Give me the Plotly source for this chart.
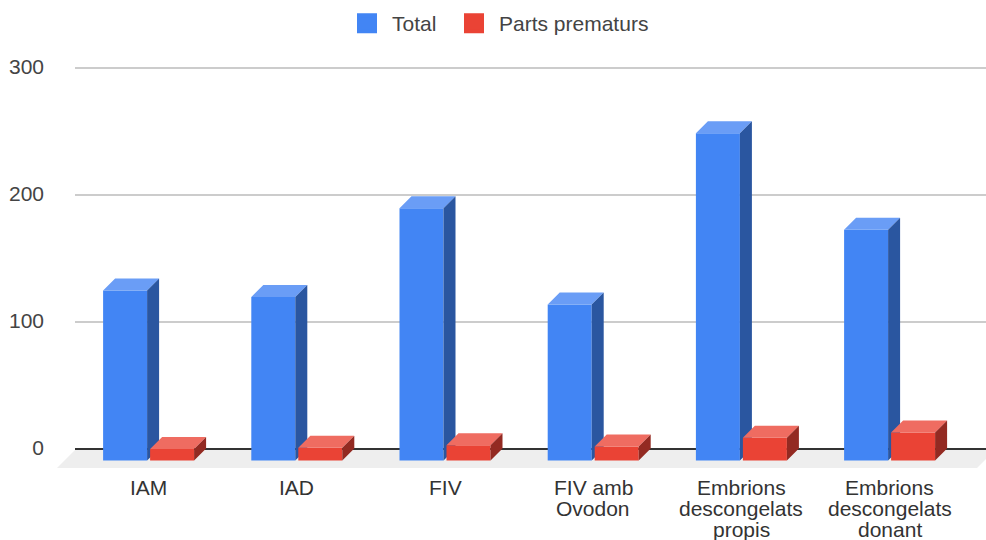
import plotly.graph_objects as go

categories = [["IAM"], ["IAD"], ["FIV"], ["FIV amb", "Ovodon"],
              ["Embrions", "descongelats", "propis"], ["Embrions", "descongelats", "donant"]]
total = [134, 129, 199, 123, 258, 182]
prematurs = [9, 10, 12, 11, 18, 22]
y_ticks = [0, 100, 200, 300]

W, H = 986, 540
PX_PER_CAT = 148.2
PX_PER_VAL = 1.268
DEPTH_X = 12 / PX_PER_CAT
DEPTH_Y = 12 / PX_PER_VAL
BAR_W = 44 / PX_PER_CAT
SLOT = 47 / PX_PER_CAT
FONT = "Liberation Sans, Arial, sans-serif"
positions = list(range(len(categories)))

PLOT_L, PLOT_T, PLOT_B = 75, 50, 468
ZERO_PX = 448.5
CENTER_PX = 148.6
x_range = [(PLOT_L - CENTER_PX) / PX_PER_CAT, (W - CENTER_PX) / PX_PER_CAT]
y_range = [(ZERO_PX - PLOT_B) / PX_PER_VAL, (ZERO_PX - PLOT_T) / PX_PER_VAL]


def faces(values, offset):
    top_x, top_y, side_x, side_y = [], [], [], []
    for p, v in zip(positions, values):
        l = p + offset - BAR_W / 2
        r = p + offset + BAR_W / 2
        ft = v - DEPTH_Y
        fb = -DEPTH_Y
        top_x += [l, r, r + DEPTH_X, l + DEPTH_X, l, None]
        top_y += [ft, ft, v, v, ft, None]
        side_x += [r, r + DEPTH_X, r + DEPTH_X, r, r, None]
        side_y += [fb, 0, v, ft, fb, None]
    return top_x, top_y, side_x, side_y


def add_series(fig, name, values, offset, front, top, side, xa, ya, legend):
    tx, ty, sx, sy = faces(values, offset)
    fig.add_trace(go.Bar(x=positions, y=values, base=-DEPTH_Y, width=BAR_W,
                         offset=offset - BAR_W / 2, name=name, showlegend=False,
                         marker=dict(color=front, line=dict(width=0)), xaxis=xa, yaxis=ya))
    for fx, fy, c in ((tx, ty, top), (sx, sy, side)):
        fig.add_trace(go.Scatter(x=fx, y=fy, mode="lines", fill="toself", fillcolor=c,
                                 line=dict(width=0, color=c), hoverinfo="skip",
                                 showlegend=False, xaxis=xa, yaxis=ya))
    fig.add_trace(go.Scatter(x=[None], y=[None], mode="markers", name=name, legend=legend,
                             marker=dict(symbol="square", size=16, color=front,
                                         line=dict(width=4, color=front)),
                             xaxis=xa, yaxis=ya))


fig = go.Figure()
add_series(fig, "Total", total, -SLOT / 2, "#4285F4", "#6A9DF6", "#2A56A0", "x", "y", "legend")
add_series(fig, "Parts prematurs", prematurs, SLOT / 2, "#EA4335", "#EF6C61", "#932A22", "x2", "y2", "legend2")

annotations = []
for p, lines in zip(positions, categories):
    for i, line in enumerate(lines):
        annotations.append(dict(x=p, xref="x", y=1 - (487.5 + 21 * i) / H, yref="paper",
                                text=line, showarrow=False, xanchor="center", yanchor="middle",
                                font=dict(size=21, color="#333333"), align="center"))

domain_x = [PLOT_L / W, 1]
domain_y = [(H - PLOT_B) / H, (H - PLOT_T) / H]
legend_style = dict(orientation="h", xanchor="left", y=1 - 23.5 / H, yanchor="middle",
                    itemwidth=40, font=dict(size=21, color="#444444"),
                    bgcolor="rgba(0,0,0,0)")
fig.update_layout(
    width=W, height=H, margin=dict(l=0, r=0, t=0, b=0),
    paper_bgcolor="white", plot_bgcolor="rgba(0,0,0,0)",
    font=dict(family=FONT, size=21, color="#333333"),
    xaxis=dict(domain=domain_x, range=x_range, tickmode="array", tickvals=positions,
               showticklabels=False, showgrid=False, zeroline=False, showline=False, ticks=""),
    yaxis=dict(domain=domain_y, range=y_range, tickmode="array", tickvals=y_ticks,
               showgrid=True, gridcolor="#CCCCCC", gridwidth=1.5, zeroline=True,
               zerolinecolor="#333333", zerolinewidth=1.5, ticks="", showline=False,
               tickfont=dict(size=21, color="#444444"), ticklabelstandoff=30, ticklabelshift=-1),
    xaxis2=dict(domain=domain_x, range=x_range, overlaying="x", visible=False),
    yaxis2=dict(domain=domain_y, range=y_range, overlaying="y", visible=False),
    legend=dict(x=342 / W, **legend_style),
    legend2=dict(x=449 / W, **legend_style),
    shapes=[dict(type="path", xref="paper", yref="paper", layer="below",
                 path="M {:.4f} {:.4f} L {:.4f} {:.4f} L {:.4f} {:.4f} L {:.4f} {:.4f} Z".format(
                     57 / W, (H - 468) / H, 75 / W, (H - 450) / H,
                     995 / W, (H - 450) / H, 977 / W, (H - 468) / H),
                 fillcolor="#EEEEEE", line=dict(width=0))],
    annotations=annotations,
    showlegend=True,
)
fig.write_html("out.html", config=dict(displayModeBar=False),
               post_script="document.body.style.margin='0';document.body.style.overflow='hidden';window.dispatchEvent(new Event('resize'));")
